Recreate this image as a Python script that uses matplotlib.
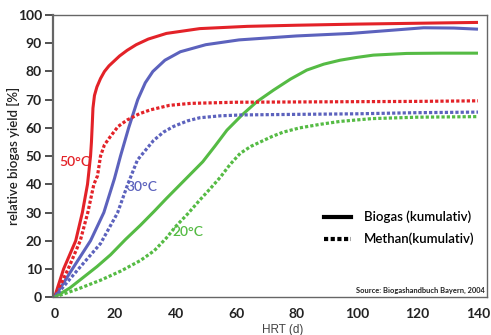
import matplotlib.pyplot as plt
from matplotlib.lines import Line2D

# --- data ---
bio50_x = [0, 3, 7, 9.2, 10.9, 11.9, 12.2, 12.5, 12.7, 13.2, 14, 15.2, 16.5, 18, 19.5, 21.5, 24, 27, 31, 37, 48, 63.7, 80, 100, 120, 140]
bio50_y = [0, 10, 20, 30, 40, 50, 55, 62, 67, 71.5, 74.5, 77.5, 80, 82, 83.5, 85.5, 87.5, 89.5, 91.5, 93.5, 95.2, 96, 96.4, 96.8, 97.1, 97.4]

met50_x = [0, 4.5, 8.5, 11, 13, 14.2, 15.2, 16.5, 18.5, 21, 24, 28, 31.7, 38, 45, 60, 80, 100, 120, 140]
met50_y = [0, 10, 20, 30, 40, 43, 50, 54, 57, 60.5, 62.8, 65, 66.4, 68, 68.7, 69.1, 69.2, 69.3, 69.4, 69.6]

bio30_x = [0, 5.9, 11.9, 16.3, 19.8, 21.8, 24.5, 27.5, 30, 32.5, 36.5, 41.6, 50, 61, 80, 98, 110, 122, 132, 140]
bio30_y = [0, 10, 20, 30, 42, 50, 60, 70, 76, 80, 84, 87, 89.5, 91.2, 92.6, 93.5, 94.5, 95.5, 95.4, 95.0]

met30_x = [0, 7.6, 15.2, 20.8, 24.2, 27.4, 30, 32.7, 36, 39.3, 44, 48, 55, 62, 80, 100, 120, 140]
met30_y = [0, 9.6, 19, 29.8, 40, 48.6, 52, 55.5, 58.5, 60.5, 62.5, 63.6, 64.3, 64.6, 64.8, 65.0, 65.4, 65.6]

bio20_x = [0, 5, 9.5, 14, 18.5, 23.5, 28.4, 33, 37, 43, 49, 53, 57, 62, 66.9, 72.4, 78, 83.4, 89, 94.4, 100, 105.4, 116.4, 128, 140]
bio20_y = [0, 3.2, 7, 10.8, 15, 20.5, 25.5, 30.5, 35, 41.5, 48, 53.5, 59.2, 64.6, 69.3, 73.4, 77.3, 80.5, 82.6, 84, 85, 85.8, 86.4, 86.5, 86.5]

met20_x = [0, 8, 15.2, 22, 28.4, 33, 37, 40, 44, 48, 51.5, 54.8, 58, 61.4, 65, 68, 72, 75.6, 81, 88, 94.4, 105, 120, 140]
met20_y = [0, 3, 6, 9.3, 13, 16.5, 21, 25, 29.5, 34.4, 38.5, 42.5, 47, 51, 53.5, 55, 57, 58.5, 60, 61.3, 62.3, 63.3, 63.8, 64]

temp_labels = ['50°C', '30°C', '20°C']
x_ticks = [0, 20, 40, 60, 80, 100, 120, 140]
y_ticks = [0, 10, 20, 30, 40, 50, 60, 70, 80, 90, 100]

RED = '#e32228'
BLUE = '#5c62bd'
GREEN = '#55bb44'
DOT = (0, (1, 0.65))

plt.rcParams['font.family'] = ['Lato', 'DejaVu Sans']

fig = plt.figure(figsize=(4.91, 3.35), dpi=100)
ax = fig.add_axes([0.108, 0.113, 0.884, 0.842])

for xs, ys, c in [(bio50_x, bio50_y, RED), (bio30_x, bio30_y, BLUE), (bio20_x, bio20_y, GREEN)]:
    ax.plot(xs, ys, color=c, lw=2.2, solid_capstyle='butt', solid_joinstyle='round')
for xs, ys, c in [(met50_x, met50_y, RED), (met30_x, met30_y, BLUE), (met20_x, met20_y, GREEN)]:
    ax.plot(xs, ys, color=c, lw=2.3, linestyle=DOT, dash_capstyle='butt')

# temperature labels
ax.text(6.6, 48, temp_labels[0], color=RED, fontsize=10, fontweight='semibold', ha='center', va='center')
ax.text(29, 39, temp_labels[1], color=BLUE, fontsize=10, fontweight='semibold', ha='center', va='center')
ax.text(44.2, 23, temp_labels[2], color=GREEN, fontsize=10, fontweight='semibold', ha='center', va='center')

ax.set_xlim(-0.5, 143)
ax.set_ylim(0, 100)
ax.set_xticks(x_ticks)
ax.set_yticks(y_ticks)
ax.tick_params(axis='x', length=0, pad=8, labelsize=10, colors='#222')
ax.tick_params(axis='y', length=6, width=1.1, pad=2, labelsize=10, colors='#222')
for lab in ax.get_xticklabels() + ax.get_yticklabels():
    lab.set_fontweight('bold')

for side in ['top', 'right', 'bottom']:
    ax.spines[side].set_color('#666')
    ax.spines[side].set_linewidth(1.0)
ax.spines['left'].set_color('#666')
ax.spines['left'].set_linewidth(1.6)

ax.set_ylabel('relative biogas yield [%]', fontsize=9.5, fontweight='semibold', color='#222')
ax.yaxis.set_label_coords(-0.075, 0.5)
ax.set_xlabel('HRT (d)', fontsize=8.5, color='#444', family=['Liberation Sans'])
ax.xaxis.set_label_coords(0.53, -0.095)

handles = [Line2D([], [], color='black', lw=3),
           Line2D([], [], color='black', lw=3, linestyle=(0, (1, 0.6)))]
ax.legend(handles, ['Biogas (kumulativ)', 'Methan(kumulativ)'], loc='center left',
          bbox_to_anchor=(0.625, 0.245), frameon=False, handlelength=2.0,
          handletextpad=1.0, labelspacing=0.7, borderpad=0, borderaxespad=0,
          prop={'family': 'Lato', 'weight': 'semibold', 'size': 9.5})

ax.text(0.995, 0.012, 'Source: Biogashandbuch Bayern, 2004', transform=ax.transAxes,
        ha='right', va='bottom', fontsize=5.4, fontweight='bold', color='#222')

fig.savefig('out.png', dpi=100)
